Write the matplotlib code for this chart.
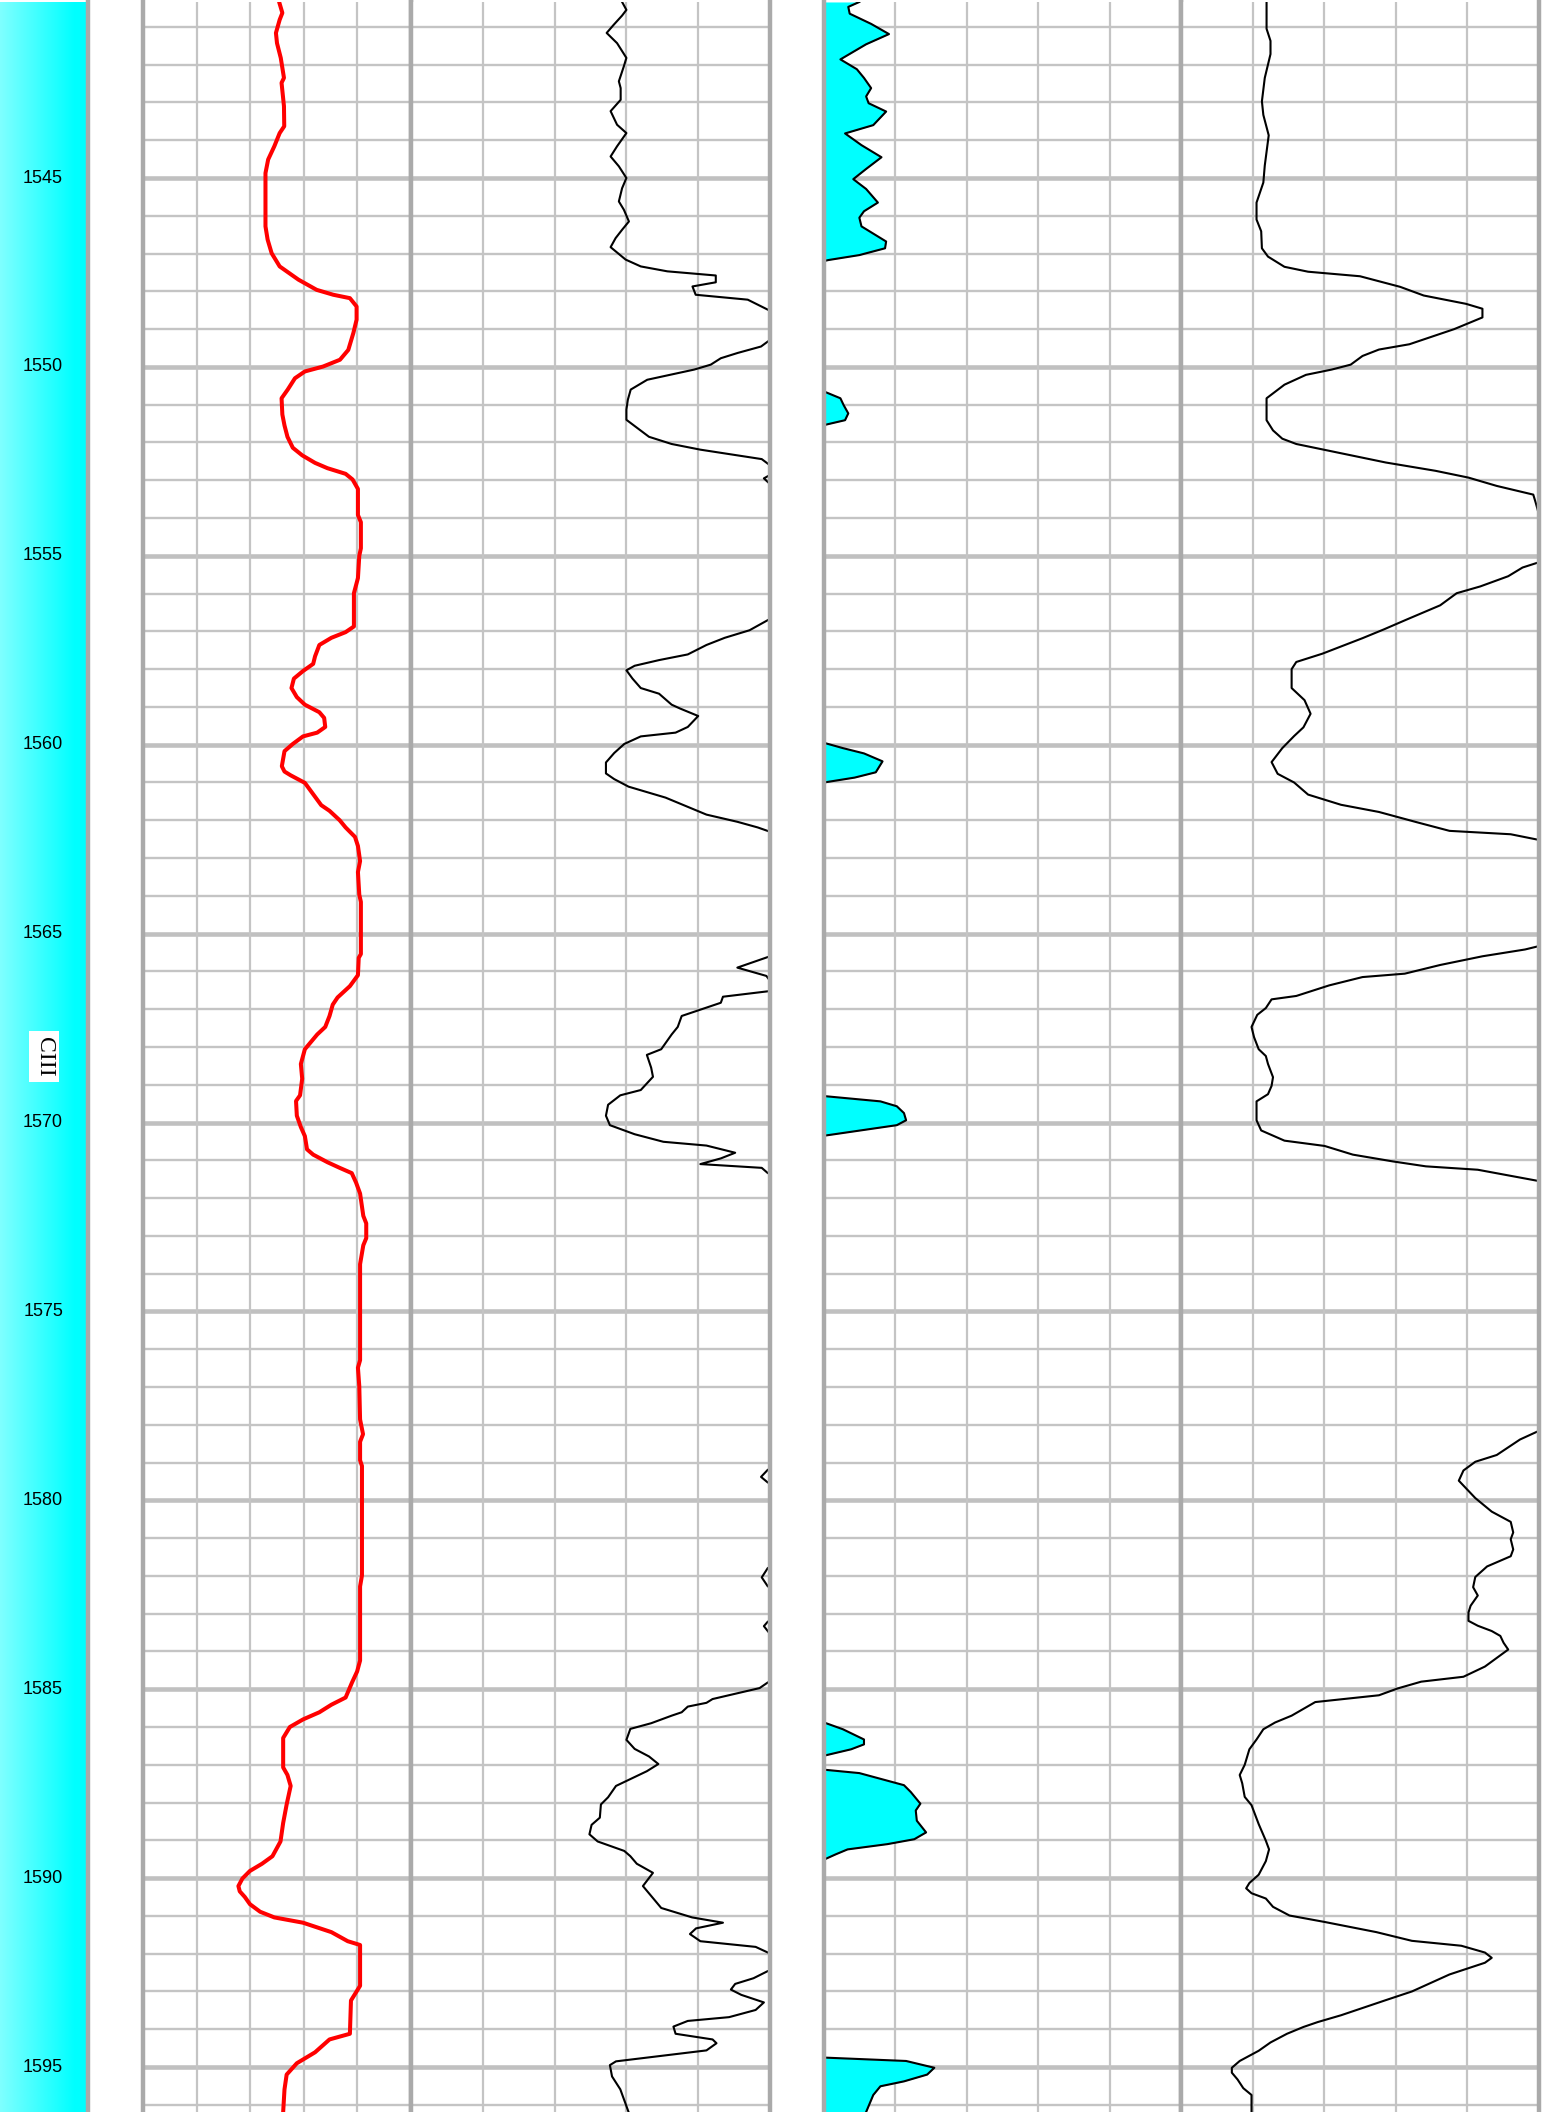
import numpy as np
import matplotlib
matplotlib.use('Agg')
import matplotlib.pyplot as plt
from matplotlib.patches import Rectangle

# ---------------- data ----------------
depth_ticks = [1545, 1550, 1555, 1560, 1565, 1570, 1575, 1580, 1585, 1590, 1595]
zone_label = "CIII"
zone_depth = 1568.25

# Track 1 (red curve): depth, value (fraction of track width)
gr_depth = [1540.34, 1540.63, 1540.81, 1541.16, 1541.43, 1541.82, 1542.35, 1542.48, 1543.10, 1543.63,
            1543.81, 1544.16, 1544.51, 1544.87, 1546.28, 1546.63, 1546.99, 1547.34, 1547.69, 1547.96,
            1548.09, 1548.18, 1548.40, 1548.75, 1549.10, 1549.55, 1549.81, 1549.99, 1550.12, 1550.30,
            1550.60, 1550.83, 1551.26, 1551.55, 1551.85, 1552.14, 1552.34, 1552.54, 1552.68, 1552.83,
            1552.98, 1553.23, 1553.92, 1554.11, 1554.80, 1555.00, 1555.59, 1555.99, 1556.87, 1557.02,
            1557.17, 1557.36, 1557.66, 1557.86, 1558.05, 1558.25, 1558.50, 1558.74, 1558.94, 1559.14,
            1559.29, 1559.53, 1559.68, 1559.78, 1559.98, 1560.17, 1560.57, 1560.71, 1560.81, 1561.01,
            1561.31, 1561.60, 1561.75, 1562.00, 1562.19, 1562.44, 1562.68, 1563.08, 1563.37, 1563.97,
            1564.16, 1565.54, 1565.64, 1566.10, 1566.39, 1566.69, 1566.88, 1567.18, 1567.47, 1567.67,
            1568.06, 1568.45, 1568.84, 1569.28, 1569.43, 1569.82, 1570.12, 1570.36, 1570.71, 1570.85,
            1571.05, 1571.20, 1571.34, 1571.59, 1571.88, 1572.47, 1572.67, 1573.06, 1573.25, 1573.75,
            1576.29, 1576.49, 1576.98, 1577.86, 1578.25, 1578.45, 1578.94, 1579.09, 1581.99, 1582.28,
            1584.24, 1584.53, 1584.82, 1585.22, 1585.41, 1585.61, 1585.80, 1586.00, 1586.29, 1587.07,
            1587.27, 1587.56, 1588.05, 1588.54, 1589.03, 1589.42, 1589.62, 1589.81, 1590.01, 1590.21,
            1590.35, 1590.50, 1590.69, 1590.89, 1591.04, 1591.18, 1591.43, 1591.67, 1591.77, 1592.85,
            1593.24, 1594.12, 1594.27, 1594.61, 1594.90, 1595.20, 1595.59, 1596.19]
gr_value = [0.508, 0.520, 0.510, 0.496, 0.500, 0.514, 0.526, 0.517, 0.526, 0.527,
            0.510, 0.490, 0.467, 0.457, 0.457, 0.465, 0.480, 0.510, 0.580, 0.648,
            0.710, 0.772, 0.797, 0.797, 0.785, 0.766, 0.735, 0.672, 0.604, 0.567,
            0.540, 0.517, 0.520, 0.528, 0.539, 0.559, 0.594, 0.642, 0.688, 0.756,
            0.782, 0.802, 0.802, 0.813, 0.813, 0.807, 0.802, 0.787, 0.787, 0.756,
            0.703, 0.658, 0.642, 0.635, 0.597, 0.563, 0.554, 0.574, 0.604, 0.658,
            0.676, 0.680, 0.650, 0.597, 0.559, 0.528, 0.518, 0.528, 0.551, 0.604,
            0.635, 0.665, 0.696, 0.734, 0.756, 0.791, 0.802, 0.810, 0.802, 0.807,
            0.813, 0.813, 0.805, 0.802, 0.772, 0.726, 0.708, 0.696, 0.680, 0.650,
            0.604, 0.589, 0.594, 0.586, 0.571, 0.574, 0.589, 0.604, 0.612, 0.635,
            0.688, 0.734, 0.779, 0.795, 0.810, 0.822, 0.833, 0.833, 0.822, 0.810,
            0.810, 0.802, 0.807, 0.810, 0.821, 0.810, 0.810, 0.817, 0.817, 0.810,
            0.810, 0.799, 0.780, 0.756, 0.703, 0.658, 0.597, 0.548, 0.523, 0.523,
            0.539, 0.551, 0.536, 0.523, 0.513, 0.483, 0.444, 0.399, 0.371, 0.356,
            0.361, 0.380, 0.399, 0.437, 0.490, 0.597, 0.703, 0.764, 0.810, 0.810,
            0.776, 0.772, 0.696, 0.642, 0.574, 0.536, 0.528, 0.523]

# Track 2 (black curve); values > 1 run off the right edge of the track
t2_depth = [1540.34, 1540.55, 1540.70, 1540.94, 1541.16, 1541.43, 1541.82, 1542.04, 1542.44, 1542.62,
            1542.93, 1543.23, 1543.59, 1543.81, 1544.16, 1544.43, 1544.69, 1545.00, 1545.27, 1545.62,
            1545.84, 1546.15, 1546.37, 1546.59, 1546.83, 1547.16, 1547.34, 1547.47, 1547.58, 1547.76,
            1547.87, 1548.09, 1548.22, 1548.49, 1548.70, 1549.10, 1549.32, 1549.46, 1549.63, 1549.77,
            1549.94, 1550.07, 1550.34, 1550.60, 1550.87, 1551.13, 1551.40, 1551.85, 1552.04, 1552.19,
            1552.44, 1552.59, 1552.72, 1552.86, 1552.95, 1553.10, 1553.30, 1556.50, 1556.67, 1556.97,
            1557.17, 1557.36, 1557.61, 1557.76, 1557.91, 1558.03, 1558.25, 1558.50, 1558.65, 1558.94,
            1559.04, 1559.24, 1559.53, 1559.68, 1559.78, 1559.98, 1560.22, 1560.47, 1560.76, 1560.91,
            1561.11, 1561.40, 1561.60, 1561.85, 1562.04, 1562.19, 1562.29, 1562.50, 1565.40, 1565.60,
            1565.90, 1566.12, 1566.25, 1566.35, 1566.45, 1566.52, 1566.67, 1566.83, 1567.18, 1567.47,
            1567.67, 1568.06, 1568.21, 1568.55, 1568.79, 1569.14, 1569.28, 1569.53, 1569.82, 1570.07,
            1570.31, 1570.51, 1570.61, 1570.80, 1570.95, 1571.10, 1571.20, 1571.34, 1571.50, 1579.00,
            1579.19, 1579.38, 1579.53, 1579.70, 1581.60, 1581.79, 1582.04, 1582.28, 1582.50, 1583.00,
            1583.21, 1583.33, 1583.50, 1583.70, 1584.60, 1584.82, 1584.97, 1585.26, 1585.36, 1585.46,
            1585.61, 1585.70, 1585.90, 1586.05, 1586.34, 1586.58, 1586.78, 1586.98, 1587.17, 1587.56,
            1587.86, 1588.05, 1588.40, 1588.59, 1588.84, 1589.03, 1589.28, 1589.42, 1589.62, 1589.86,
            1590.21, 1590.79, 1591.04, 1591.18, 1591.33, 1591.48, 1591.67, 1591.82, 1591.97, 1592.10,
            1592.30, 1592.46, 1592.65, 1592.80, 1592.95, 1593.09, 1593.29, 1593.49, 1593.68, 1593.78,
            1593.93, 1594.12, 1594.27, 1594.37, 1594.56, 1594.85, 1594.95, 1595.25, 1595.59, 1596.19]
t2_value = [0.588, 0.600, 0.588, 0.565, 0.545, 0.574, 0.600, 0.593, 0.579, 0.584,
            0.584, 0.556, 0.574, 0.600, 0.574, 0.556, 0.579, 0.600, 0.588, 0.579,
            0.593, 0.607, 0.588, 0.570, 0.556, 0.598, 0.640, 0.714, 0.849, 0.849,
            0.784, 0.793, 0.938, 0.995, 1.080, 1.080, 0.995, 0.975, 0.910, 0.863,
            0.835, 0.789, 0.658, 0.612, 0.604, 0.600, 0.600, 0.663, 0.726, 0.806,
            0.977, 0.998, 1.060, 1.000, 0.983, 1.000, 1.100, 1.100, 1.000, 0.943,
            0.874, 0.823, 0.771, 0.691, 0.623, 0.600, 0.617, 0.640, 0.691, 0.726,
            0.749, 0.800, 0.771, 0.737, 0.640, 0.594, 0.566, 0.543, 0.543, 0.566,
            0.606, 0.709, 0.760, 0.823, 0.909, 0.966, 0.996, 1.100, 1.100, 1.000,
            0.909, 0.990, 1.000, 1.100, 1.100, 1.000, 0.869, 0.863, 0.754, 0.743,
            0.726, 0.697, 0.657, 0.669, 0.674, 0.640, 0.583, 0.549, 0.543, 0.554,
            0.623, 0.703, 0.823, 0.903, 0.863, 0.806, 0.977, 0.994, 1.100, 1.100,
            0.994, 0.975, 0.994, 1.100, 1.100, 0.994, 0.977, 0.994, 1.100, 1.100,
            0.994, 0.983, 0.997, 1.100, 1.100, 0.994, 0.971, 0.840, 0.823, 0.771,
            0.754, 0.726, 0.669, 0.611, 0.600, 0.623, 0.663, 0.689, 0.657, 0.571,
            0.549, 0.529, 0.526, 0.503, 0.497, 0.520, 0.594, 0.611, 0.629, 0.674,
            0.646, 0.697, 0.783, 0.869, 0.794, 0.777, 0.806, 0.960, 0.994, 1.100,
            1.100, 0.994, 0.954, 0.903, 0.891, 0.920, 0.983, 0.960, 0.886, 0.771,
            0.731, 0.737, 0.840, 0.851, 0.823, 0.571, 0.554, 0.560, 0.583, 0.606]

# Track 3 (cyan filled curve from left edge); values < 0 are off the left edge
t3_depth = [1540.34, 1540.47, 1540.65, 1540.92, 1541.19, 1541.46, 1541.86, 1542.12, 1542.35, 1542.62,
            1542.84, 1543.02, 1543.24, 1543.60, 1543.82, 1544.13, 1544.45, 1544.76, 1545.03, 1545.29,
            1545.65, 1545.88, 1546.05, 1546.28, 1546.68, 1546.86, 1547.04, 1547.17, 1547.30, 1550.55,
            1550.65, 1550.83, 1551.01, 1551.23, 1551.41, 1551.54, 1551.65, 1559.85, 1559.95, 1560.09,
            1560.23, 1560.44, 1560.73, 1560.87, 1561.00, 1561.10, 1569.20, 1569.30, 1569.44, 1569.57,
            1569.75, 1569.94, 1570.07, 1570.35, 1570.45, 1585.80, 1585.88, 1586.06, 1586.33, 1586.46,
            1586.59, 1586.76, 1586.85, 1587.05, 1587.13, 1587.22, 1587.54, 1587.72, 1588.03, 1588.21,
            1588.48, 1588.79, 1588.97, 1589.10, 1589.24, 1589.37, 1589.51, 1589.60, 1594.70, 1594.75,
            1594.84, 1595.02, 1595.20, 1595.38, 1595.51, 1595.74, 1596.19]
t3_value = [0.099, 0.068, 0.072, 0.132, 0.182, 0.118, 0.046, 0.092, 0.112, 0.132,
            0.118, 0.125, 0.174, 0.138, 0.059, 0.105, 0.161, 0.118, 0.082, 0.118,
            0.151, 0.112, 0.099, 0.105, 0.174, 0.171, 0.099, 0.013, -0.050, -0.050,
            0.000, 0.046, 0.055, 0.068, 0.059, 0.000, -0.050, -0.050, 0.000, 0.053,
            0.112, 0.164, 0.145, 0.086, 0.000, -0.050, -0.050, 0.000, 0.158, 0.204,
            0.224, 0.230, 0.204, 0.000, -0.050, -0.050, 0.000, 0.053, 0.112, 0.112,
            0.076, 0.000, -0.050, -0.050, 0.000, 0.099, 0.224, 0.243, 0.270, 0.257,
            0.260, 0.286, 0.253, 0.178, 0.066, 0.033, 0.000, -0.050, -0.050, 0.000,
            0.230, 0.309, 0.289, 0.224, 0.158, 0.138, 0.118]

# Track 4 (black curve)
t4_depth = [1540.34, 1541.05, 1541.37, 1541.72, 1542.35, 1542.97, 1543.33, 1543.87, 1544.31, 1544.67,
            1545.12, 1545.65, 1546.10, 1546.41, 1546.86, 1547.08, 1547.35, 1547.48, 1547.60, 1547.88,
            1548.11, 1548.33, 1548.46, 1548.69, 1549.00, 1549.40, 1549.54, 1549.71, 1549.94, 1550.07,
            1550.21, 1550.47, 1550.83, 1551.41, 1551.68, 1551.90, 1552.04, 1552.26, 1552.53, 1552.75,
            1552.93, 1553.15, 1553.38, 1553.60, 1553.91, 1554.10, 1555.00, 1555.17, 1555.31, 1555.54,
            1555.81, 1555.99, 1556.31, 1556.68, 1556.95, 1557.18, 1557.40, 1557.59, 1557.81, 1558.00,
            1558.50, 1558.82, 1559.18, 1559.54, 1559.77, 1560.09, 1560.46, 1560.77, 1561.00, 1561.32,
            1561.59, 1561.78, 1562.05, 1562.28, 1562.37, 1562.52, 1562.70, 1565.20, 1565.33, 1565.42,
            1565.60, 1565.83, 1566.06, 1566.15, 1566.37, 1566.65, 1566.74, 1566.97, 1567.15, 1567.47,
            1567.74, 1568.06, 1568.24, 1568.45, 1568.80, 1569.03, 1569.25, 1569.44, 1569.94, 1570.21,
            1570.48, 1570.62, 1570.85, 1571.03, 1571.16, 1571.25, 1571.55, 1571.70, 1578.00, 1578.16,
            1578.39, 1578.80, 1578.98, 1579.21, 1579.48, 1579.94, 1580.30, 1580.57, 1580.85, 1581.03,
            1581.30, 1581.48, 1581.75, 1582.03, 1582.30, 1582.52, 1582.79, 1582.97, 1583.19, 1583.32,
            1583.46, 1583.59, 1583.77, 1583.95, 1584.13, 1584.40, 1584.67, 1584.80, 1584.98, 1585.16,
            1585.34, 1585.52, 1585.70, 1585.88, 1586.06, 1586.33, 1586.59, 1587.00, 1587.27, 1587.49,
            1587.85, 1588.07, 1588.57, 1589.01, 1589.24, 1589.55, 1589.91, 1590.13, 1590.27, 1590.40,
            1590.54, 1590.76, 1590.99, 1591.16, 1591.43, 1591.66, 1591.79, 1591.97, 1592.11, 1592.24,
            1592.55, 1593.00, 1593.23, 1593.63, 1593.81, 1593.94, 1594.12, 1594.35, 1594.57, 1594.84,
            1595.02, 1595.15, 1595.33, 1595.56, 1595.74, 1596.19]
t4_value = [0.239, 0.239, 0.250, 0.250, 0.234, 0.226, 0.230, 0.245, 0.239, 0.234,
            0.230, 0.211, 0.211, 0.224, 0.226, 0.243, 0.289, 0.355, 0.500, 0.612,
            0.678, 0.796, 0.842, 0.842, 0.763, 0.638, 0.553, 0.507, 0.474, 0.421,
            0.349, 0.289, 0.239, 0.239, 0.257, 0.283, 0.322, 0.434, 0.572, 0.711,
            0.803, 0.882, 0.984, 0.991, 1.000, 1.100, 1.100, 1.000, 0.954, 0.914,
            0.836, 0.770, 0.724, 0.632, 0.566, 0.507, 0.447, 0.395, 0.322, 0.309,
            0.309, 0.345, 0.362, 0.342, 0.316, 0.283, 0.253, 0.270, 0.316, 0.355,
            0.447, 0.553, 0.658, 0.750, 0.921, 1.000, 1.100, 1.100, 1.000, 0.961,
            0.842, 0.724, 0.625, 0.507, 0.414, 0.322, 0.253, 0.237, 0.213, 0.197,
            0.204, 0.217, 0.237, 0.243, 0.257, 0.253, 0.243, 0.211, 0.211, 0.224,
            0.289, 0.401, 0.480, 0.592, 0.684, 0.829, 1.000, 1.100, 1.100, 1.000,
            0.947, 0.882, 0.822, 0.789, 0.776, 0.822, 0.868, 0.921, 0.928, 0.921,
            0.928, 0.921, 0.855, 0.822, 0.816, 0.829, 0.809, 0.803, 0.803, 0.829,
            0.868, 0.892, 0.901, 0.914, 0.888, 0.849, 0.789, 0.671, 0.605, 0.553,
            0.375, 0.342, 0.309, 0.263, 0.230, 0.211, 0.191, 0.178, 0.164, 0.171,
            0.178, 0.197, 0.217, 0.237, 0.246, 0.237, 0.217, 0.191, 0.182, 0.197,
            0.237, 0.257, 0.303, 0.401, 0.546, 0.645, 0.783, 0.849, 0.868, 0.849,
            0.750, 0.645, 0.572, 0.447, 0.382, 0.342, 0.296, 0.250, 0.217, 0.164,
            0.142, 0.142, 0.158, 0.174, 0.197, 0.197]

# ---------------- layout ----------------
W, H = 1551, 2112
DPI = 100
PX_PER_M = 37.78
Y_TOP_PX = 2
D_TOP = 1540.288 + Y_TOP_PX / PX_PER_M
D_BOT = 1540.288 + H / PX_PER_M

BORDER = '#aaaaaa'
GRID = '#c4c4c4'
GRID_MAJOR = '#c0c0c0'

fig = plt.figure(figsize=(W / DPI, H / DPI), dpi=DPI)
fig.patch.set_facecolor('white')


def add_px_axes(x0, x1):
    return fig.add_axes([x0 / W, 0, (x1 - x0) / W, (H - Y_TOP_PX) / H])


def style_track(ax):
    ax.set_xlim(0, 1)
    ax.set_ylim(D_BOT, D_TOP)
    ax.set_xticks([])
    ax.set_yticks([])
    for s in ('top', 'bottom'):
        ax.spines[s].set_visible(False)
    for s in ('left', 'right'):
        ax.spines[s].set_color(BORDER)
        ax.spines[s].set_linewidth(3.2)
        ax.spines[s].set_zorder(5)
    for d in range(1541, 1597):
        major = (d % 5 == 0)
        ax.axhline(d, color=GRID_MAJOR if major else GRID,
                   lw=3.3 if major else 1.7, zorder=1)
    for x in (0.2, 0.4, 0.6, 0.8):
        ax.axvline(x, color=GRID, lw=1.6, zorder=1)


# depth track
ax_d = add_px_axes(0, 88)
ax_d.set_xlim(0, 1)
ax_d.set_ylim(D_BOT, D_TOP)
grad = np.linspace(0, 1, 256)
fade = np.clip(1 - grad / 0.85, 0, 1) * 0.5
img = np.zeros((1, 256, 3))
img[0, :, 0] = fade
img[0, :, 1] = 1.0
img[0, :, 2] = 1.0
ax_d.imshow(img, extent=[0, 1, D_BOT, D_TOP], aspect='auto', zorder=0)
ax_d.set_xticks([])
ax_d.set_yticks([])
for s in ('top', 'bottom', 'left'):
    ax_d.spines[s].set_visible(False)
ax_d.spines['right'].set_color(BORDER)
ax_d.spines['right'].set_linewidth(3.2)
for d in depth_ticks:
    ax_d.text(0.49, d, str(d), ha='center', va='center', fontsize=13,
              family='Liberation Sans', color='black', zorder=3)
box_top = 1540.288 + 1031 / PX_PER_M
box_bot = 1540.288 + 1082 / PX_PER_M
ax_d.add_patch(Rectangle((29 / 88, box_top), 30 / 88, box_bot - box_top,
                         facecolor='white', edgecolor='none', zorder=2))
ax_d.text(0.5, zone_depth, zone_label, rotation=270, ha='center', va='center',
          fontsize=17, family='Liberation Serif', color='black', zorder=3,
          rotation_mode='anchor')

# track 1
ax1 = add_px_axes(143, 411)
style_track(ax1)
ax1.plot(gr_value, gr_depth, color='#ff0000', lw=2.9, zorder=3,
         solid_joinstyle='round', solid_capstyle='round')

# track 2
ax2 = add_px_axes(411, 770)
style_track(ax2)
ax2.plot(t2_value, t2_depth, color='black', lw=1.5, zorder=3)

# track 3
ax3 = add_px_axes(824, 1181)
style_track(ax3)
ax3.fill_betweenx(t3_depth, 0, t3_value, color='#00ffff', lw=0, zorder=2)
ax3.plot(t3_value, t3_depth, color='black', lw=1.5, zorder=3)

# track 4
ax4 = add_px_axes(1181, 1539)
style_track(ax4)
ax4.plot(t4_value, t4_depth, color='black', lw=1.5, zorder=3)

fig.savefig('out.png', dpi=DPI, facecolor='white')
